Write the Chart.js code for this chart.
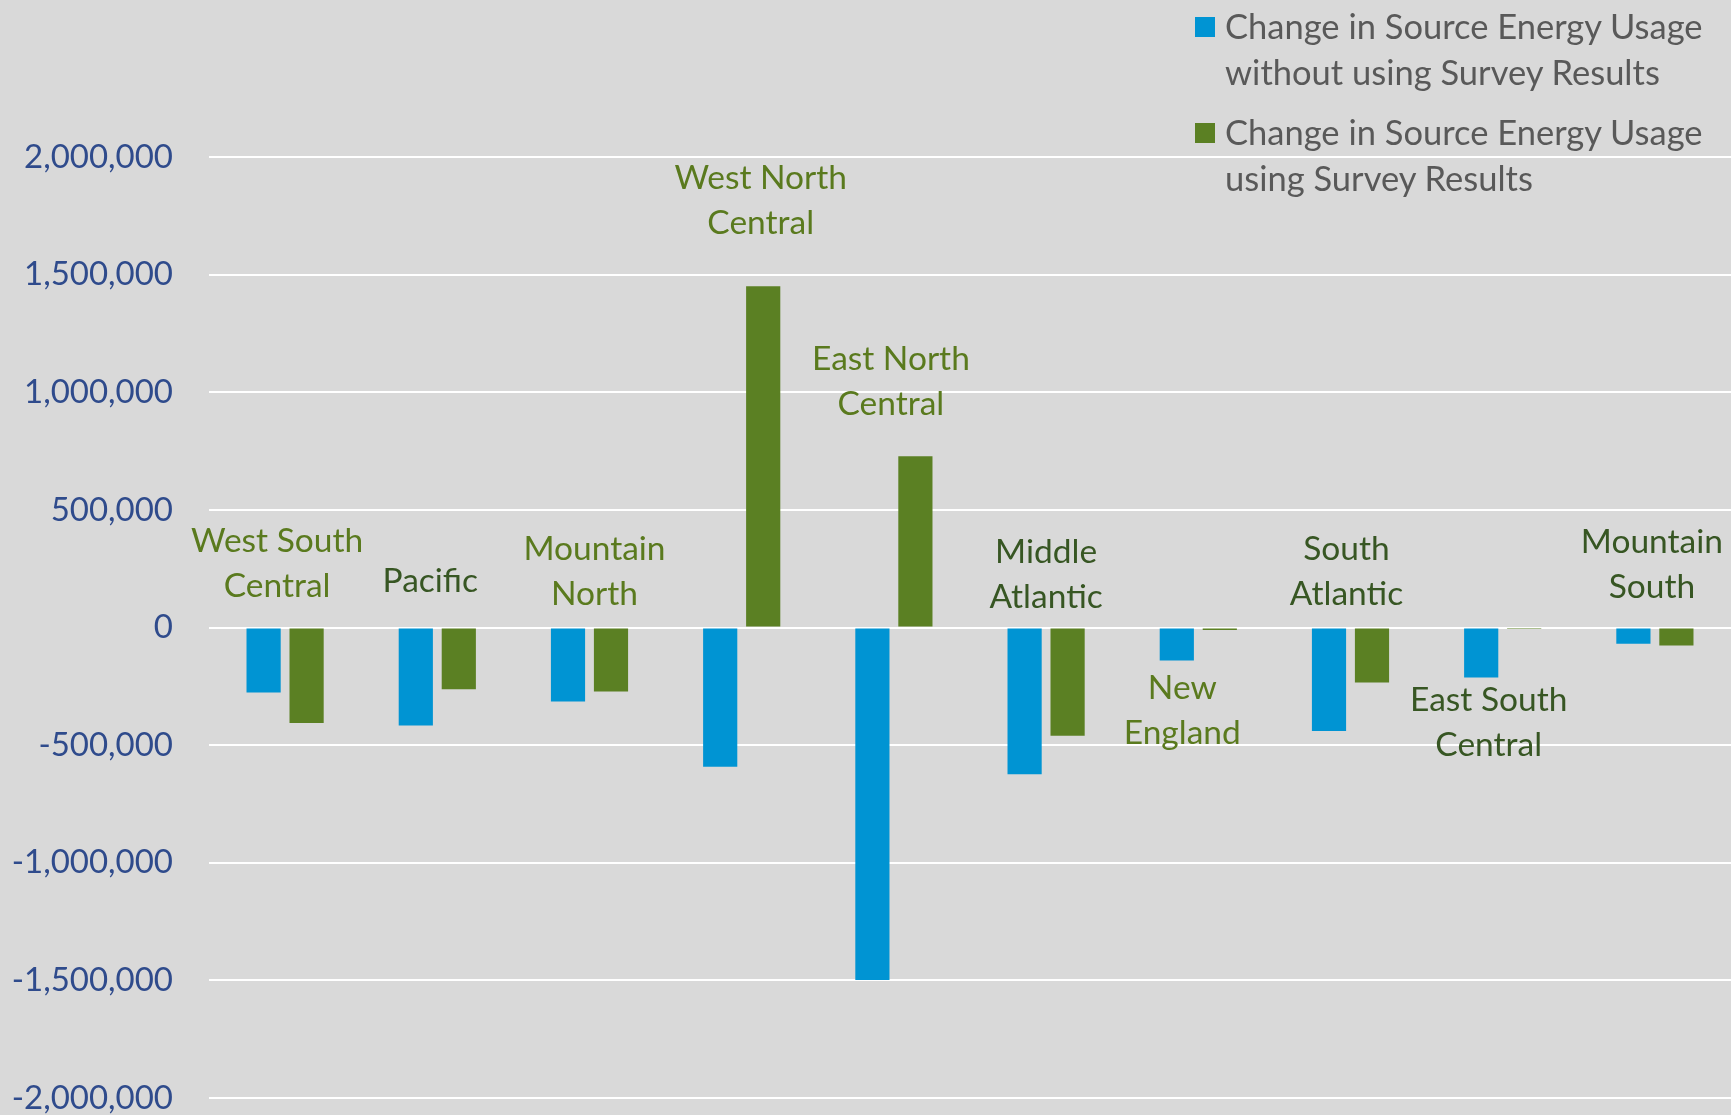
<!DOCTYPE html>
<html>
<head>
<meta charset="utf-8">
<script src="https://cdn.jsdelivr.net/npm/chart.js@4/dist/chart.umd.min.js"></script>
<style>
  html, body { margin: 0; padding: 0; background: #d9d9d9; }
  #wrap { position: relative; width: 1731px; height: 1115px; }
  #legend { position: absolute; left: 1195px; top: 3px; font-family: Lato, sans-serif; font-size: 34.5px; color: #595959; }
  .item { position: relative; padding-left: 30px; line-height: 46px; }
  .item + .item { margin-top: 14px; }
  .box { position: absolute; left: 0; top: 14px; width: 20px; height: 20px; }
</style>
</head>
<body>
<div id="wrap">
  <canvas id="chart" width="1731" height="1115"></canvas>
  <div id="legend"></div>
</div>
<script>
var regions = ['West South Central', 'Pacific', 'Mountain North', 'West North Central', 'East North Central',
               'Middle Atlantic', 'New England', 'South Atlantic', 'East South Central', 'Mountain South'];

var withoutSurvey = [-276000, -417000, -315000, -592000, -1498000, -624000, -140000, -440000, -213000, -69000];
var withSurvey = [-406000, -262000, -272000, 1451000, 728000, -460000, -11000, -234000, -6000, -77000];

var yTicks = [-2000000, -1500000, -1000000, -500000, 0, 500000, 1000000, 1500000, 2000000];

var seriesNames = ['Change in Source Energy Usage without using Survey Results',
                   'Change in Source Energy Usage using Survey Results'];

// label placement: side of bars, gap from bar end / zero line, x shift
var labelLayout = [
    {side: 'above', gap: 41, dx: -8, dark: false},
    {side: 'above', gap: 46, dx: -7, dark: true},
    {side: 'above', gap: 33, dx: 5, dark: false},
    {side: 'above', gap: 63, dx: 19, dark: false},
    {side: 'above', gap: 52, dx: -3, dark: false},
    {side: 'above', gap: 30, dx: 0, dark: true},
    {side: 'below', gap: 28, dx: -16, dark: false},
    {side: 'above', gap: 33, dx: -4, dark: true},
    {side: 'below', gap: 23, dx: -14, dark: true},
    {side: 'above', gap: 40, dx: -3, dark: true}
];

var blue = '#0094d3';
var green = '#5b8023';

function splitLabel(name) {
    var words = name.split(' ');
    if (words.length <= 2) return words;
    return [words.slice(0, 2).join(' '), words.slice(2).join(' ')];
}

var regionLabels = {
    id: 'regionLabels',
    afterDatasetsDraw: function(chart) {
        var ctx = chart.ctx;
        var x = chart.scales.x, y = chart.scales.y;
        ctx.save();
        ctx.font = '33.5px Lato';
        ctx.textAlign = 'center';
        ctx.textBaseline = 'middle';
        var lh = 45;
        regions.forEach(function(name, i) {
            var l = labelLayout[i];
            var lines = splitLabel(name);
            ctx.fillStyle = l.dark ? '#375623' : '#5a7a1e';
            var cx = x.getPixelForValue(i) + l.dx;
            if (l.side == 'above') {
                var top = Math.max(0, withoutSurvey[i], withSurvey[i]);
                var py = y.getPixelForValue(top) - l.gap;
                for (var k = lines.length - 1; k >= 0; k--) {
                    ctx.fillText(lines[k], cx, py - (lines.length - 1 - k) * lh);
                }
            } else {
                var bot = Math.min(0, withoutSurvey[i], withSurvey[i]);
                var py2 = y.getPixelForValue(bot) + l.gap;
                lines.forEach(function(t, k) { ctx.fillText(t, cx, py2 + k * lh); });
            }
        });
        ctx.restore();
    }
};

var ctx = document.getElementById('chart').getContext('2d');

var chart = new Chart(ctx, {
    type: 'bar',
    data: {
        labels: regions,
        datasets: [{
            label: seriesNames[0],
            data: withoutSurvey,
            backgroundColor: blue
        }, {
            label: seriesNames[1],
            data: withSurvey,
            backgroundColor: green
        }]
    },
    options: {
        responsive: false,
        animation: false,
        categoryPercentage: 0.565,
        barPercentage: 0.795,
        layout: {
            padding: {top: 157, bottom: 17, left: 0, right: 0}
        },
        plugins: {
            legend: {display: false},
            tooltip: {enabled: false}
        },
        scales: {
            x: {
                display: false
            },
            y: {
                min: -2000000,
                max: 2000000,
                afterBuildTicks: function(scale) {
                    scale.ticks = yTicks.map(function(v) { return {value: v}; });
                },
                afterFit: function(scale) {
                    scale.width = 209;
                    scale.paddingTop = 0;
                    scale.paddingBottom = 0;
                },
                border: {display: false},
                grid: {
                    color: '#ffffff',
                    lineWidth: 2,
                    drawTicks: false
                },
                ticks: {
                    padding: 36,
                    color: '#2f4b8c',
                    font: {family: 'Lato', size: 33},
                    callback: function(v) { return v.toLocaleString('en-US'); }
                }
            }
        }
    },
    plugins: [regionLabels]
});

var legend = document.getElementById('legend');
seriesNames.forEach(function(name, i) {
    var parts = name.split(' Usage ');
    var div = document.createElement('div');
    div.className = 'item';
    div.innerHTML = '<span class="box" style="background:' + chart.data.datasets[i].backgroundColor + '"></span>' +
        parts[0] + ' Usage<br>' + parts[1];
    legend.appendChild(div);
});
</script>
</body>
</html>
